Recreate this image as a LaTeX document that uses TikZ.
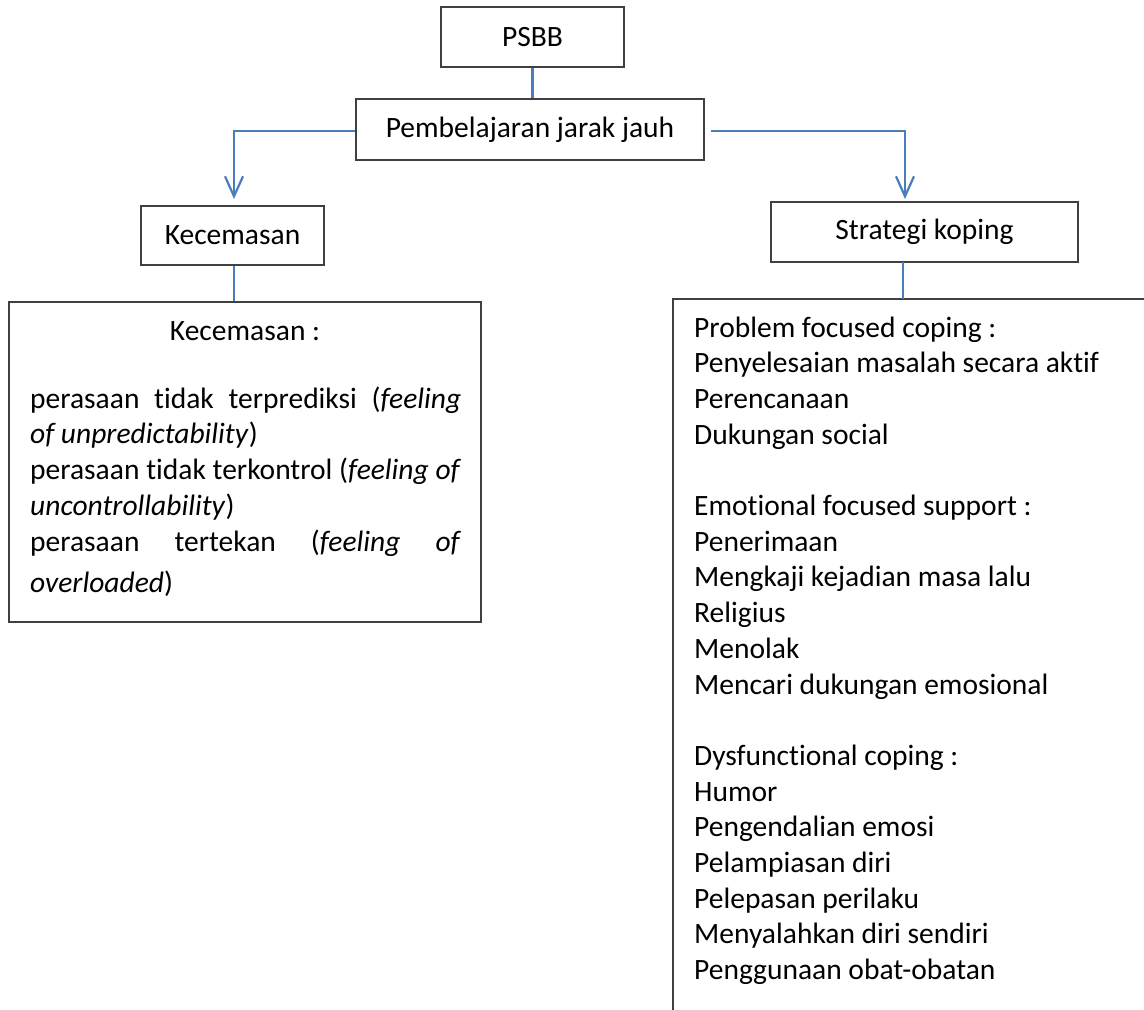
\documentclass[tikz,border=0pt]{standalone}
\usepackage{fontspec}
\setmainfont{Carlito}[Ligatures=NoCommon]
\usetikzlibrary{arrows.meta}
\definecolor{linkblue}{RGB}{74,126,187}
\definecolor{boxline}{RGB}{64,64,64}
\begin{document}
\begin{tikzpicture}[x=1pt,y=-1pt,
  box/.style={draw=boxline,line width=1.6pt,fill=white,inner sep=0pt,
    font=\fontsize{29.5}{35}\selectfont,align=center},
  link/.style={draw=linkblue,line width=2.2pt},
  linkarrow/.style={link,-{Straight Barb[length=20pt,width=18pt,line width=2.2pt]}},
  txt/.style={anchor=base west,inner sep=0pt,font=\fontsize{29.5}{35}\selectfont},
  ]
\useasboundingbox[fill=white] (0,0) rectangle (1144,1010);

% top boxes
\node[box,minimum width=183pt,minimum height=60pt] (psbb) at (532.5,37) {PSBB};
\node[box,minimum width=348pt,minimum height=61pt] (pjj) at (530,129.5) {Pembelajaran jarak jauh};
\node[box,minimum width=183pt,minimum height=59pt] (kec) at (232.5,235.5) {Kecemasan};
\node[box,minimum width=307pt,minimum height=60pt] (str) at (924.5,232) {Strategi koping};

% large boxes
\node[draw=boxline,line width=1.6pt,inner sep=0pt,minimum width=472pt,minimum height=320pt] (kecbox) at (245,462) {};
\coordinate (rtl) at (673,299);
\coordinate (rtr) at (1144,299);
\coordinate (rbl) at (673,1010);
\draw[boxline,line width=1.6pt] (rtr) -- (rtl) -- (rbl);

% connectors
\draw[link] (psbb.south) -- (psbb.south |- pjj.north);
\coordinate (lturn) at (234,131);
\coordinate (ltip) at (234,199);
\draw[linkarrow] (pjj.west |- lturn) -- (lturn) -- (ltip);
\coordinate (rstart) at (711,131);
\coordinate (rturn) at (905,131);
\coordinate (rtip) at (905,199);
\draw[linkarrow] (rstart) -- (rturn) -- (rtip);
\draw[link] (kec.south -| lturn) -- (lturn |- kecbox.north);
\coordinate (sdown) at (903,262);
\draw[link] (sdown) -- (sdown |- rtl);

% left box text
\node[txt,anchor=base] (k0) at (245,340) {Kecemasan :};
\node[txt] (k1) at (30,408) {\hbox to 431pt{perasaan\hfil tidak\hfil terprediksi\hfil (\textit{feeling}}};
\node[txt] (k2) at (30,443) {\textit{of unpredictability})};
\node[txt] (k3) at (30,479) {\hbox to 431pt{perasaan\hfil tidak\hfil terkontrol\hfil (\textit{feeling\hfil of}}};
\node[txt] (k4) at (30,515) {\textit{uncontrollability})};
\node[txt] (k5) at (30,551) {\hbox to 431pt{perasaan\hfil tertekan\hfil (\textit{feeling\hfil of}}};
\node[txt] (k6) at (30,592) {\textit{overloaded})};

% right box text
\foreach \t [count=\i from 0] in {
  Problem focused coping :,
  Penyelesaian masalah secara aktif,
  Perencanaan,
  Dukungan social,
  {},
  Emotional focused support :,
  Penerimaan,
  Mengkaji kejadian masa lalu,
  Religius,
  Menolak,
  Mencari dukungan emosional,
  {},
  Dysfunctional coping :,
  Humor,
  Pengendalian emosi,
  Pelampiasan diri,
  Pelepasan perilaku,
  Menyalahkan diri sendiri,
  Penggunaan obat-obatan}
  \node[txt] (r\i) at (694,{337+35.7*\i}) {\t};
\end{tikzpicture}
\end{document}
